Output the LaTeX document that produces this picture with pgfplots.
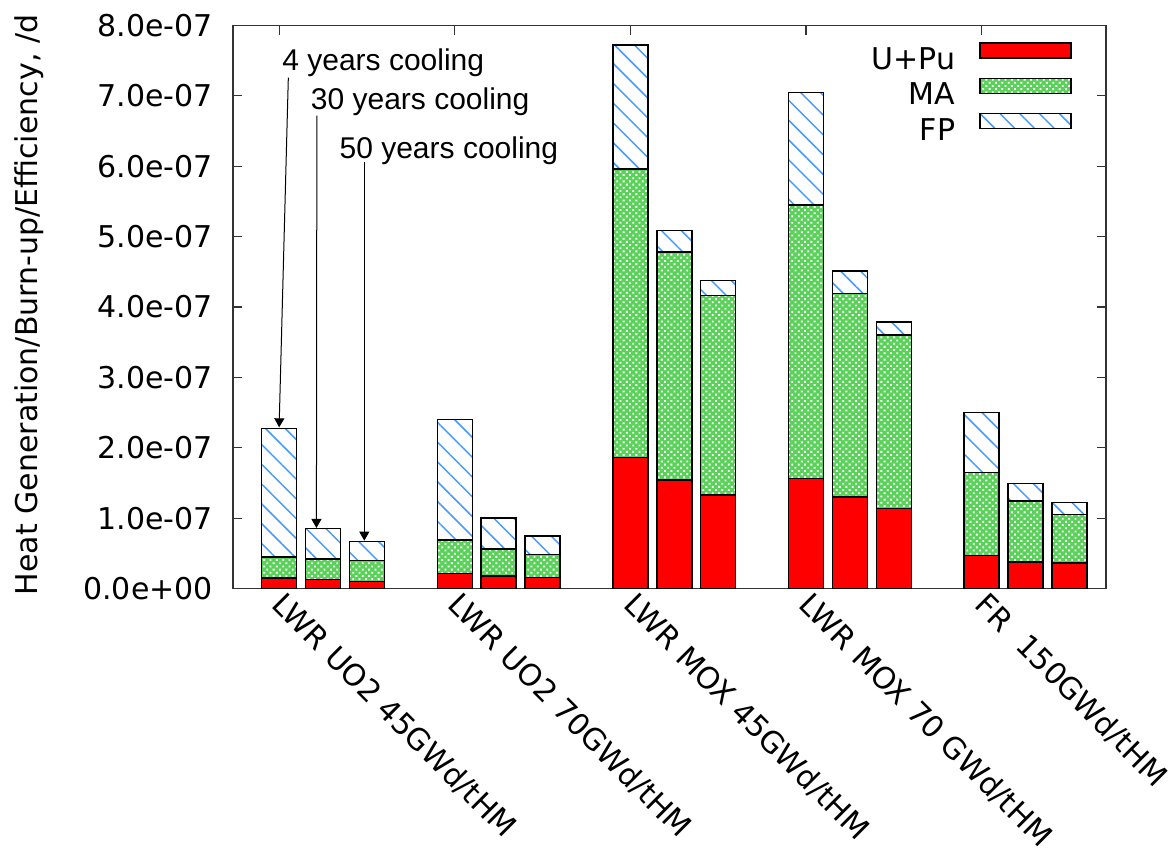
\documentclass[border=0pt]{standalone}
\usepackage{fontspec}
\setmainfont{DejaVu Sans}
\newfontfamily\arialfont{Liberation Sans}
\usepackage{pgfplots}
\pgfplotsset{compat=1.18}
\usepackage{pgfplotstable}
\usetikzlibrary{patterns.meta,arrows.meta}

\definecolor{upured}{RGB}{255,0,0}
\definecolor{magreen}{RGB}{90,210,90}
\definecolor{fpblue}{RGB}{70,155,255}

% heat generation per burn-up per efficiency, split by nuclide group
% bars: 3 cooling times (4, 30, 50 years) per fuel type
\pgfplotstableread{
x   upu       ma        fp
0   0.150e-7  0.300e-7  1.820e-7
1   0.130e-7  0.290e-7  0.435e-7
2   0.097e-7  0.303e-7  0.265e-7
4   0.210e-7  0.480e-7  1.710e-7
5   0.180e-7  0.380e-7  0.440e-7
6   0.153e-7  0.327e-7  0.265e-7
8   1.860e-7  4.100e-7  1.760e-7
9   1.540e-7  3.240e-7  0.310e-7
10  1.330e-7  2.830e-7  0.220e-7
12  1.565e-7  3.885e-7  1.600e-7
13  1.300e-7  2.890e-7  0.320e-7
14  1.140e-7  2.460e-7  0.190e-7
16  0.466e-7  1.184e-7  0.850e-7
17  0.380e-7  0.860e-7  0.250e-7
18  0.360e-7  0.690e-7  0.170e-7
}\heat

\pgfplotsset{
  barleg/.style={legend image code/.code={%
      \draw[##1] (0pt,3.5pt) rectangle (91pt,18.5pt);}},
}

\begin{document}
\begin{tikzpicture}[font=\fontsize{30}{36}\selectfont]
\useasboundingbox (-233pt,-267.5pt) rectangle (938pt,588.5pt);
\begin{axis}[
  at={(0pt,0pt)}, anchor=south west,
  scale only axis, width=873pt, height=563pt,
  xmin=-1.05, xmax=18.83, ymin=0, ymax=8e-7,
  ybar stacked, bar width=35pt,
  axis line style={line width=1.5pt, black!80},
  tick align=inside, major tick length=9pt,
  tick style={line width=1.2pt, black!80},
  xtick={0,4,8,12,16},
  xticklabels={LWR UO2 45GWd/tHM, LWR UO2 70GWd/tHM, LWR MOX 45GWd/tHM,
               LWR MOX 70 GWd/tHM, FR\ \ 150GWd/tHM},
  xticklabel style={inner sep=0pt, xshift=8pt, yshift=-2pt, rotate=-45, anchor=north west},
  ytick={0,1e-7,2e-7,3e-7,4e-7,5e-7,6e-7,7e-7,8e-7},
  yticklabels={0.0e+00,1.0e-07,2.0e-07,3.0e-07,4.0e-07,5.0e-07,6.0e-07,7.0e-07,8.0e-07},
  scaled y ticks=false,
  yticklabel style={inner sep=0pt, anchor=east, xshift=-20pt},
  ylabel={Heat Generation/Burn-up/Efficiency, /d},
  ylabel style={at={(axis description cs:-0.2245,0.5036)}, anchor=base, inner sep=0pt},
  legend style={at={(axis description cs:0.961,0.9705)}, anchor=north east,
                draw=none, fill=none, inner sep=0pt, row sep=2pt, column sep=24pt,
                nodes={inner sep=0pt, text height=22pt, text depth=6pt}},
  legend cell align=right, legend plot pos=right,
]
\addplot[fill=upured, draw=black, line width=1.5pt, barleg]
  table[x=x, y=upu]{\heat};
\addlegendentry{U+Pu}
\addplot[preaction={fill=magreen}, pattern={Dots[distance=4.5pt, radius=1.3pt, angle=45]},
         pattern color=white, draw=black, line width=1.5pt, barleg]
  table[x=x, y=ma]{\heat};
\addlegendentry{MA}
\addplot[preaction={fill=white}, pattern={Lines[angle=-45, distance=14pt, line width=1.5pt]},
         pattern color=fpblue, draw=black, line width=1.5pt, barleg]
  table[x=x, y=fp]{\heat};
\addlegendentry{FP}

% cooling-time annotations
\draw[-{Triangle[length=9pt,width=10pt]}, line width=1pt]
  (axis cs:0.21,7.26e-7) -- (axis cs:0,2.29e-7);
\draw[-{Triangle[length=9pt,width=10pt]}, line width=1pt]
  (axis cs:0.86,6.72e-7) -- (axis cs:0.85,0.86e-7);
\draw[-{Triangle[length=9pt,width=10pt]}, line width=1pt]
  (axis cs:1.94,6.06e-7) -- (axis cs:1.94,0.68e-7);
\node[anchor=base west, inner sep=0pt, font=\arialfont\fontsize{30}{36}\selectfont]
  at (axis cs:0.07,7.365e-7) {4 years cooling};
\node[anchor=base west, inner sep=0pt, font=\arialfont\fontsize{30}{36}\selectfont]
  at (axis cs:0.72,6.807e-7) {30 years cooling};
\node[anchor=base west, inner sep=0pt, font=\arialfont\fontsize{30}{36}\selectfont]
  at (axis cs:1.374,6.11e-7) {50 years cooling};
\end{axis}
\end{tikzpicture}
\end{document}
